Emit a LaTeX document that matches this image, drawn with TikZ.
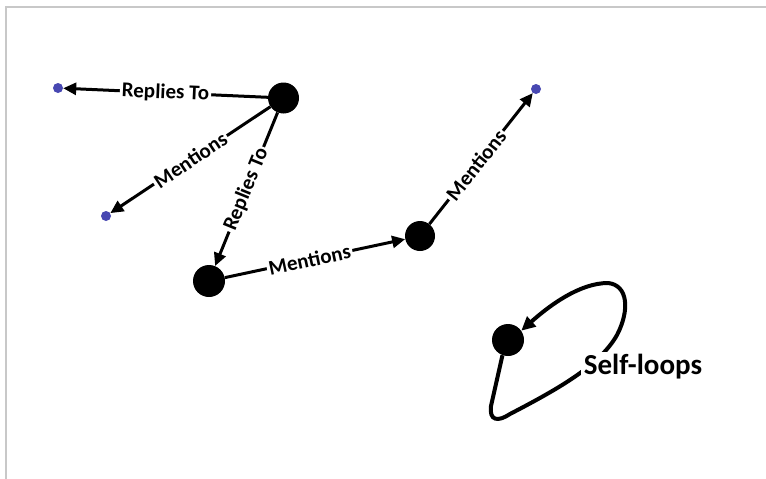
\documentclass[tikz,border=0pt]{standalone}
\usepackage{fontspec}
\setmainfont{Carlito}
\usetikzlibrary{arrows.meta}
\definecolor{dotblue}{RGB}{72,72,178}
\definecolor{framegray}{RGB}{200,200,200}
\tikzset{
  bignode/.style={circle,fill=black,inner sep=0pt,minimum size=31pt},
  smallnode/.style={circle,fill=dotblue,inner sep=0pt,minimum size=10pt},
  link/.style={line width=3pt,-{Triangle[length=13pt,width=12pt]}},
  lbl/.style={fill=white,inner sep=2pt,font=\bfseries\fontsize{21}{21}\selectfont,sloped,midway},
}
\begin{document}
\begin{tikzpicture}[x=1pt,y=-1pt]
\useasboundingbox (0,0) rectangle (766,479);
\fill[white] (0,0) rectangle (766,479);
\draw[framegray,line width=1.6pt] (766,7) -- (6,7) -- (6,479);

\node[bignode] (A) at (283.5,98) {};
\node[bignode,minimum size=32pt] (B) at (209,281) {};
\node[bignode,minimum size=30pt] (C) at (420,236) {};
\node[bignode,minimum size=32pt] (D) at (508,340) {};
\node[smallnode] (p1) at (58,88) {};
\node[smallnode] (p2) at (106,216) {};
\node[smallnode] (p3) at (536,89) {};

\draw[link] (A) -- node[lbl] {Replies To} (p1);
\draw[link] (A) -- node[lbl] {Mentions} (p2);
\draw[link] (A) -- node[lbl] {Replies To} (B);
\draw[link] (B) -- node[lbl,pos=0.47] {Mentions} (C);
\draw[link] (C) -- node[lbl,pos=0.45] {Mentions} (p3);

\draw[line width=4pt,line join=round,-{Triangle[length=14pt,width=13pt]}]
  (D.250) -- (491,406) .. controls (489,421) and (498,422) .. (510,414)
  .. controls (560,388) and (600,365) .. (617,335)
  .. controls (630,310) and (628,285) .. (608,283)
  .. controls (580,283) and (550,305) .. (D.35);
\node[fill=white,inner sep=3pt,font=\bfseries\fontsize{29}{29}\selectfont] (sl) at (643,367) {Self-loops};
\end{tikzpicture}
\end{document}
